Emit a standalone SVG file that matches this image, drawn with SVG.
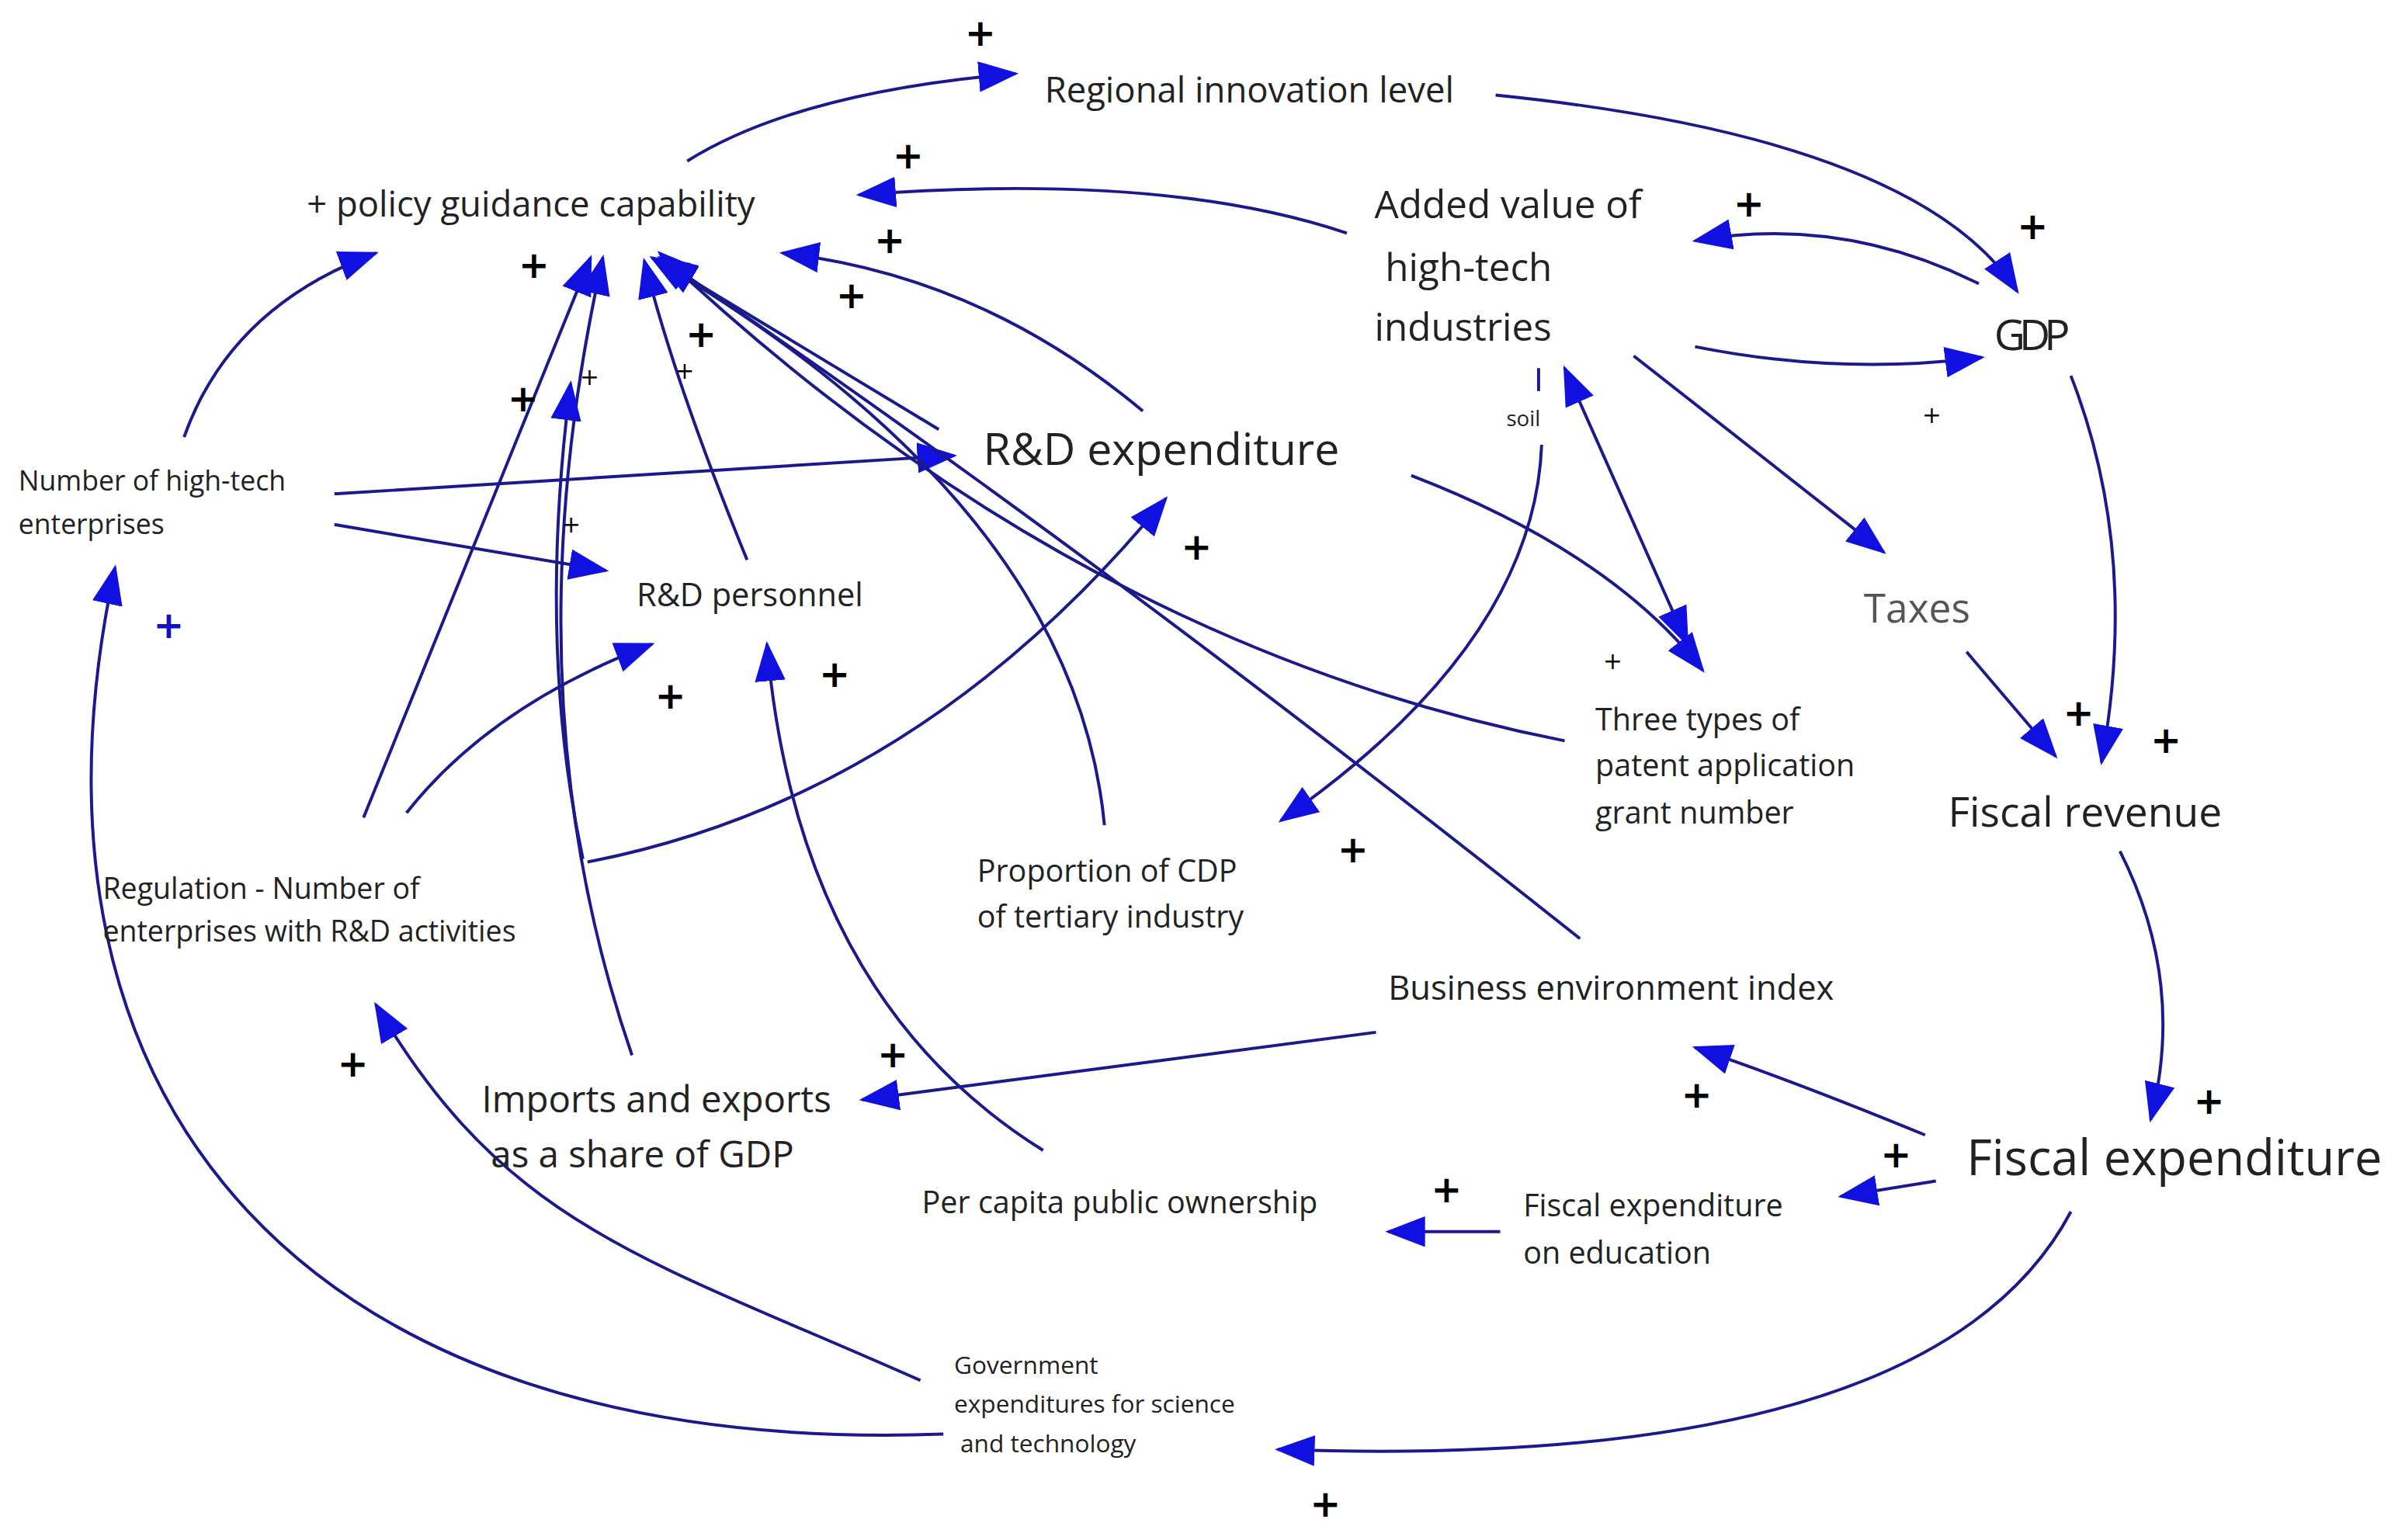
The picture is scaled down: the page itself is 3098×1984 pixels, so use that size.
<svg xmlns="http://www.w3.org/2000/svg" width="3098" height="1984" viewBox="0 0 3098 1984">
<style>
text{font-family:"Open Sans","Noto Sans",sans-serif;fill:#222}
.c path{fill:none;stroke:#1a1a8c;stroke-width:2;marker-end:url(#a)}
.c path.nm{marker-end:none}
.p{font-family:"DejaVu Sans",sans-serif;font-size:24px;font-weight:bold;fill:#000}
.ps{font-family:"DejaVu Sans",sans-serif;font-size:15px;fill:#000}
</style>
<defs>
<marker id="a" markerUnits="userSpaceOnUse" markerWidth="26" markerHeight="20" refX="24" refY="10" orient="auto"><path d="M0,0 L26,10 L0,20 Z" fill="#1010e0"/></marker>
<marker id="b" markerUnits="userSpaceOnUse" markerWidth="26" markerHeight="20" refX="2" refY="10" orient="auto"><path d="M26,0 L0,10 L26,20 Z" fill="#1010e0"/></marker>
</defs>
<rect width="3098" height="1984" fill="#fff"/>
<g transform="scale(1.976)">
<g class="c" id="connectors">
<path d="M448,105 Q520,60 662,48"/>
<path d="M975,62 Q1250,90 1315,190"/>
<path d="M878,152 Q760,112 560,127"/>
<path d="M1290,185 Q1200,140 1105,157"/>
<path d="M1105,226 Q1200,245 1292,233"/>
<path d="M1350,245 Q1395,360 1370,497"/>
<path d="M1065,232 L1228,360"/>
<path d="M1282,425 L1340,493"/>
<path d="M1382,555 Q1425,640 1402,730"/>
<path d="M1255,740 Q1170,705 1105,683"/>
<path d="M1262,770 L1200,780"/>
<path d="M978,803 L905,803"/>
<path d="M1350,790 Q1260,960 833,945"/>
<path d="M615,935 C200,950 0,720 75,370"/>
<path d="M600,900 C420,820 330,800 245,655"/>
<path d="M120,285 Q150,200 245,165"/>
<path d="M218,322 L622,297"/>
<path d="M218,342 L395,372"/>
<path d="M237,533 L385,168"/>
<path d="M265,530 Q320,460 425,420"/>
<path d="M383,562 Q600,520 760,325"/>
<path d="M412,688 Q330,450 393,168"/>
<path d="M380,560 Q350,420 372,250"/>
<path d="M487,365 Q440,250 420,170"/>
<path d="M680,750 Q520,650 500,420"/>
<path d="M720,538 Q700,330 425,168"/>
<path d="M745,268 Q640,180 510,165"/>
<path d="M612,280 L430,170"/>
<path d="M1020,483 Q700,420 430,165"/>
<path d="M1030,612 Q700,350 430,168"/>
<path d="M920,310 Q1050,360 1110,437"/>
<path d="M1100,420 L1020,240" marker-start="url(#b)"/>
<path class="nm" d="M1003,240 L1003,255"/>
<path d="M1005,290 Q1000,420 835,535"/>
<path d="M897,673 L562,717"/>
</g>
<g id="n1"><text x="681" y="67" font-size="23">Regional innovation level</text></g>
<g id="n2"><text x="200" y="141" font-size="23">+ policy guidance capability</text></g>
<g id="n3"><text x="896" y="142" font-size="25">Added value of</text><text x="903" y="183" font-size="25">high-tech</text><text x="896" y="222" font-size="25">industries</text></g>
<g id="n4"><text x="1300" y="228" font-size="28" font-family="Liberation Sans,sans-serif" fill="#000" letter-spacing="-4">GDP</text></g>
<g id="n5"><text x="641" y="303" font-size="29">R&amp;D expenditure</text></g>
<g id="n6"><text x="12" y="320" font-size="18">Number of high-tech</text><text x="12" y="348" font-size="18">enterprises</text></g>
<g id="n7"><text x="415" y="395" font-size="21">R&amp;D personnel</text></g>
<g id="n8"><text x="1215" y="406" font-size="26" style="fill:#555">Taxes</text></g>
<g id="n9"><text x="1040" y="476" font-size="20">Three types of</text><text x="1040" y="506" font-size="20">patent application</text><text x="1040" y="537" font-size="20">grant number</text></g>
<g id="n10"><text x="1270" y="539" font-size="27">Fiscal revenue</text></g>
<g id="n11"><text x="637" y="575" font-size="20">Proportion of CDP</text><text x="637" y="605" font-size="20">of tertiary industry</text></g>
<g id="n12"><text x="67" y="586" font-size="19">Regulation - Number of</text><text x="67" y="614" font-size="19">enterprises with R&amp;D activities</text></g>
<g id="n13"><text x="905" y="652" font-size="22">Business environment index</text></g>
<g id="n14"><text x="314" y="725" font-size="24">Imports and exports</text><text x="320" y="761" font-size="24">as a share of GDP</text></g>
<g id="n15"><text x="1282" y="766" font-size="32">Fiscal expenditure</text></g>
<g id="n16"><text x="601" y="791" font-size="20">Per capita public ownership</text></g>
<g id="n17"><text x="993" y="793" font-size="20">Fiscal expenditure</text><text x="993" y="824" font-size="20">on education</text></g>
<g id="n18"><text x="622" y="896" font-size="16">Government</text><text x="622" y="921" font-size="16">expenditures for science</text><text x="626" y="947" font-size="16">and technology</text></g>
<g id="signs">
<text x="982" y="278" font-size="14">soil</text>
<text class="p" x="629" y="30">+</text><text class="p" x="582" y="110">+</text><text class="p" x="570" y="165">+</text>
<text class="p" x="1130" y="141">+</text><text class="p" x="1315" y="156">+</text><text class="p" x="338" y="181">+</text>
<text class="p" x="545" y="201">+</text><text class="p" x="447" y="226">+</text><text class="p" x="331" y="268">+</text>
<text class="ps" x="378" y="251">+</text><text class="ps" x="440" y="247">+</text><text class="ps" x="366" y="347">+</text>
<text class="p" x="100" y="416" style="fill:#1010c0">+</text><text class="p" x="770" y="365">+</text>
<text class="ps" x="1253" y="276">+</text><text class="ps" x="1045" y="436">+</text>
<text class="p" x="427" y="462">+</text><text class="p" x="534" y="448">+</text><text class="p" x="1345" y="473">+</text>
<text class="p" x="1402" y="491">+</text><text class="p" x="872" y="562">+</text><text class="p" x="572" y="696">+</text>
<text class="p" x="220" y="702">+</text><text class="p" x="1096" y="722">+</text><text class="p" x="1430" y="726">+</text>
<text class="p" x="1226" y="761">+</text><text class="p" x="933" y="784">+</text><text class="p" x="854" y="989">+</text>
</g>
</g>
</svg>
